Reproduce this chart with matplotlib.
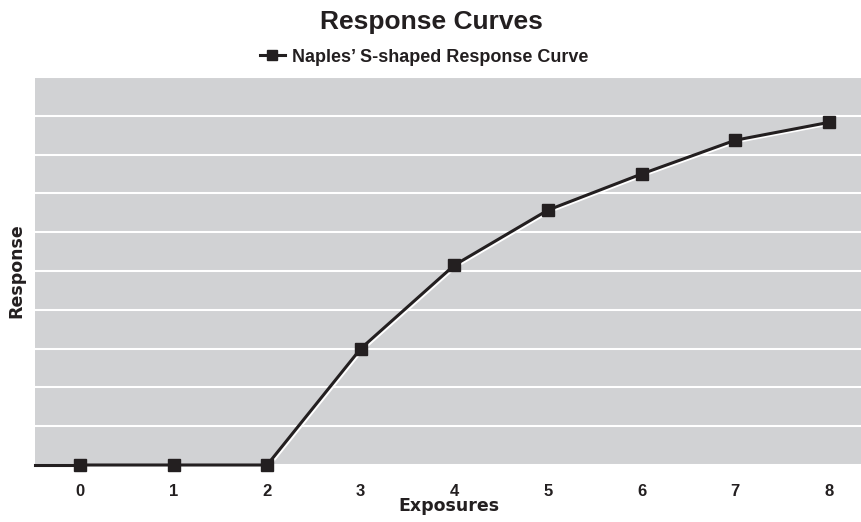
import matplotlib
matplotlib.use("Agg")
import matplotlib.pyplot as plt
import matplotlib.transforms as mtransforms

exposures = [0, 1, 2, 3, 4, 5, 6, 7, 8]
response = [0, 0, 0, 3.0, 5.15, 6.57, 7.5, 8.37, 8.83]
series_name = "Naples\u2019 S-shaped Response Curve"
title = "Response Curves"
xlabel = "Exposures"
ylabel = "Response"

ink = "#231f20"
fig = plt.figure(figsize=(8.62, 5.22), dpi=100)
ax = fig.add_axes([35/862, 1-465/522, 1-35/862, (465-77)/522])
ax.set_facecolor("#d1d2d4")
ax.set_xlim(-0.48, 8.355)
ax.set_ylim(0, 10)
ax.set_yticks(range(0, 11))
ax.yaxis.grid(True, color="white", linewidth=1.5)
ax.set_axisbelow(True)
for s in ax.spines.values():
    s.set_visible(False)
ax.tick_params(axis="y", left=False, labelleft=False)
ax.tick_params(axis="x", bottom=False, pad=10)
ax.set_xticks(exposures)
ax.set_xticklabels([str(e) for e in exposures], fontfamily="Liberation Sans",
                   fontweight="bold", fontsize=12, color=ink)

# white shadow under the line, offset down-right
shadow_tr = mtransforms.offset_copy(ax.transData, fig=fig, x=1.4, y=-1.4, units="dots")
ax.plot(exposures, response, color="white", linewidth=2.2, transform=shadow_tr,
        clip_on=False, zorder=3, solid_capstyle="butt")
ax.plot([ax.get_xlim()[0], exposures[0]], [response[0], response[0]],
        color=ink, linewidth=2.2, clip_on=False, zorder=4)
line, = ax.plot(exposures, response, color=ink, linewidth=2.2, marker="s",
                markersize=8.5, markerfacecolor=ink, markeredgecolor=ink,
                label=series_name, clip_on=False, zorder=5)

ax.set_xlabel(xlabel, fontfamily="DejaVu Sans", fontweight="bold", fontsize=12.5,
              color=ink, labelpad=-1)
ax.set_ylabel(ylabel, fontfamily="DejaVu Sans", fontweight="bold", fontsize=12.5,
              color=ink, labelpad=7)

fig.text(0.5, 1-22/522, title, ha="center", va="center", fontfamily="Liberation Sans",
         fontweight="bold", fontsize=19, color=ink)
leg = fig.legend(handles=[line], loc="center", bbox_to_anchor=(424/862, 1-57/522),
                 frameon=False, handlelength=1.4, handletextpad=0.4, markerscale=0.85,
                 prop={"family": "Liberation Sans", "weight": "bold", "size": 13})
for t in leg.get_texts():
    t.set_color(ink)

fig.savefig("out.png", dpi=100)
